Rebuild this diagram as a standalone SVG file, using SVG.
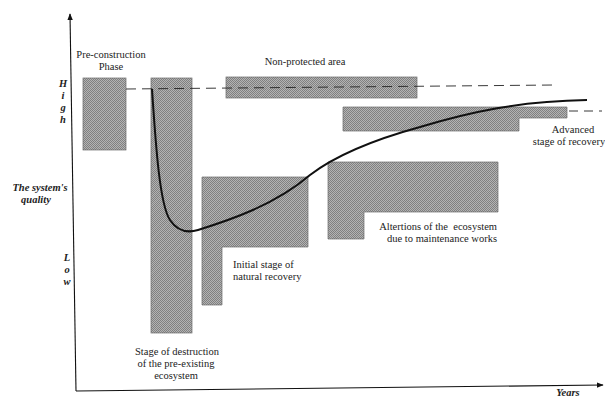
<svg xmlns="http://www.w3.org/2000/svg" width="605" height="399" viewBox="0 0 605 399">
<defs>
<pattern id="hatch" patternUnits="userSpaceOnUse" width="2" height="2">
<rect width="2" height="2" fill="#b3b3b3"/>
<rect width="1" height="1" fill="#7f7f7f"/>
<rect x="1" y="1" width="1" height="1" fill="#7f7f7f"/>
</pattern>
<pattern id="diag" patternUnits="userSpaceOnUse" width="6" height="6" patternTransform="rotate(45)">
<line x1="0" y1="0" x2="0" y2="6" stroke="#c4c4c4" stroke-width="0.6" stroke-opacity="0.5"/>
</pattern>
<marker id="arr" viewBox="0 0 10 10" refX="9" refY="5" markerWidth="7" markerHeight="7" orient="auto" markerUnits="userSpaceOnUse">
<path d="M0,1 L10,5 L0,9 Z" fill="#111"/>
</marker>
<style>
.box{fill:url(#hatch);stroke:#6a6a6a;stroke-width:0.7}
.ov{fill:url(#diag);stroke:none}
.lbl{font-family:"Liberation Serif","Times New Roman",serif;font-size:10.5px;fill:#222;white-space:pre}
.ax{font-family:"Liberation Serif","Times New Roman",serif;font-size:10.5px;font-weight:bold;font-style:italic;fill:#222}
.axis{stroke:#111;stroke-width:1.1;fill:none}
.dash{stroke:#222;stroke-width:0.9;stroke-dasharray:10 6;fill:none}
.curve{stroke:#111;stroke-width:2;fill:none}
</style>
</defs>
<rect width="605" height="399" fill="#ffffff"/>

<g id="axes">
<line class="axis" x1="76" y1="391" x2="70" y2="14" marker-end="url(#arr)"/>
<line class="axis" x1="76" y1="391" x2="603" y2="385" marker-end="url(#arr)"/>
<text class="ax" x="63" y="87" text-anchor="middle">H</text>
<text class="ax" x="63" y="99" text-anchor="middle">i</text>
<text class="ax" x="63" y="111" text-anchor="middle">g</text>
<text class="ax" x="63" y="123" text-anchor="middle">h</text>
<text class="ax" x="40" y="191" text-anchor="middle">The system's</text>
<text class="ax" x="36" y="203" text-anchor="middle">quality</text>
<text class="ax" x="67" y="261" text-anchor="middle">L</text>
<text class="ax" x="67" y="273" text-anchor="middle">o</text>
<text class="ax" x="67" y="285" text-anchor="middle">w</text>
<text class="ax" x="568" y="396" text-anchor="middle">Years</text>
</g>

<g id="pre-construction">
<rect class="box" x="83" y="78" width="43" height="72"/>
<rect class="ov" x="83" y="78" width="43" height="72"/>
<text class="lbl" x="111" y="58" text-anchor="middle">Pre-construction</text>
<text class="lbl" x="111" y="70" text-anchor="middle">Phase</text>
</g>

<g id="destruction">
<rect class="box" x="151" y="78" width="41" height="255"/>
<rect class="ov" x="151" y="78" width="41" height="255"/>
<text class="lbl" x="177" y="355" text-anchor="middle">Stage of destruction</text>
<text class="lbl" x="176" y="367" text-anchor="middle">of the pre-existing</text>
<text class="lbl" x="176" y="379" text-anchor="middle">ecosystem</text>
</g>

<g id="initial-recovery">
<path class="box" d="M202,177 H308 V247 H222 V305 H202 Z"/>
<path class="ov" d="M202,177 H308 V247 H222 V305 H202 Z"/>
<text class="lbl" x="233" y="268">Initial stage of</text>
<text class="lbl" x="233" y="280">natural recovery</text>
</g>

<g id="alterations">
<path class="box" d="M328,162 H498 V212 H364 V239 H328 Z"/>
<path class="ov" d="M328,162 H498 V212 H364 V239 H328 Z"/>
<text class="lbl" x="497" y="230" text-anchor="end">Altertions of the  ecosystem</text>
<text class="lbl" x="497" y="242" text-anchor="end">due to maintenance works</text>
</g>

<g id="non-protected">
<rect class="box" x="226" y="77" width="191" height="21"/>
<rect class="ov" x="226" y="77" width="191" height="21"/>
<text class="lbl" x="305" y="65" text-anchor="middle">Non-protected area</text>
</g>

<g id="advanced-recovery">
<path class="box" d="M343,107 H567 V118 H519 V131 H343 Z"/>
<path class="ov" d="M343,107 H567 V118 H519 V131 H343 Z"/>
<text class="lbl" x="573" y="133" text-anchor="middle">Advanced</text>
<text class="lbl" x="569" y="145" text-anchor="middle">stage of recovery</text>
</g>

<g id="connectors">
<line class="dash" x1="126" y1="89" x2="555" y2="85"/>
<line class="dash" x1="569" y1="111" x2="602" y2="111" style="stroke-dasharray:9 6"/>
<path class="curve" d="M152,89 C156,150 160,205 170,220 C178,232 188,233 198,230 C230,220 275,205 310,175 C340,152 380,138 420,127 C470,112 520,101 587,100"/>
</g>
</svg>
